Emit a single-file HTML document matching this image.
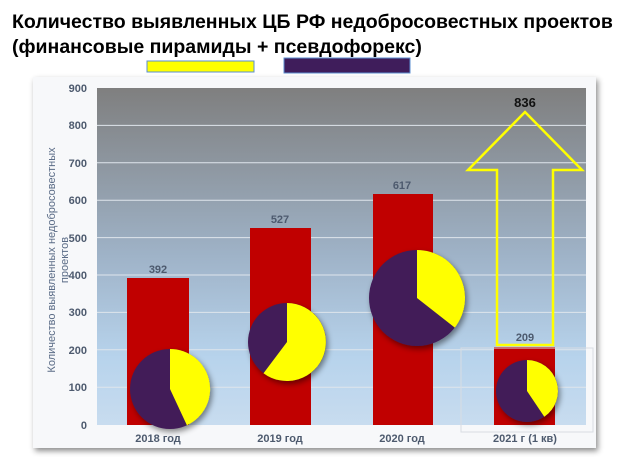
<!DOCTYPE html>
<html><head><meta charset="utf-8"><style>
html,body{margin:0;padding:0;background:#fff;width:626px;height:457px;overflow:hidden}
svg{display:block;font-family:"Liberation Sans",sans-serif}
</style></head><body>
<svg width="626" height="457" viewBox="0 0 626 457">
<defs>
<linearGradient id="bg" x1="0" y1="0" x2="0" y2="1">
<stop offset="0" stop-color="#7f7f7f"/><stop offset="0.5" stop-color="#9fb3c8"/><stop offset="0.8" stop-color="#b7d3ec"/><stop offset="1" stop-color="#c8dcef"/>
</linearGradient>
<filter id="sh" x="-20%" y="-20%" width="140%" height="140%"><feDropShadow dx="2" dy="3" stdDeviation="3" flood-color="#000" flood-opacity="0.45"/></filter>
</defs>
<text x="12" y="28" font-size="19.5" font-weight="bold" fill="#000">Количество выявленных ЦБ РФ недобросовестных проектов</text>
<text x="12" y="53" font-size="19.5" font-weight="bold" fill="#000">(финансовые пирамиды + псевдофорекс)</text>
<rect x="147" y="61" width="107" height="11" fill="#ffff00" stroke="#5b8fd0" stroke-width="1"/>
<rect x="284" y="58" width="126" height="15" fill="#3f1d5b" stroke="#5b8fd0" stroke-width="1"/>
<rect x="33" y="77" width="563" height="371" fill="#f7f8fa" filter="url(#sh)"/>
<rect x="97" y="88" width="489" height="337" fill="url(#bg)"/>
<g stroke="#dfe5ec" stroke-width="1">
<line x1="97" x2="586" y1="125.4" y2="125.4"/><line x1="97" x2="586" y1="162.8" y2="162.8"/>
<line x1="97" x2="586" y1="200.2" y2="200.2"/><line x1="97" x2="586" y1="237.6" y2="237.6"/>
<line x1="97" x2="586" y1="275" y2="275"/><line x1="97" x2="586" y1="312.4" y2="312.4"/>
<line x1="97" x2="586" y1="349.8" y2="349.8"/><line x1="97" x2="586" y1="387.2" y2="387.2"/>
</g>
<g font-size="11" font-weight="bold" fill="#4d5a6e" text-anchor="end">
<text x="87" y="92">900</text><text x="87" y="129">800</text><text x="87" y="167">700</text>
<text x="87" y="204">600</text><text x="87" y="242">500</text><text x="87" y="279">400</text>
<text x="87" y="316">300</text><text x="87" y="354">200</text><text x="87" y="391">100</text><text x="87" y="429">0</text>
</g>
<g font-size="11" fill="#5a6b86" text-anchor="middle" transform="translate(55,260) rotate(-90)">
<text x="0" y="0">Количество выявленных недобросовестных</text><text x="0" y="13">проектов</text>
</g>
<rect x="127" y="278" width="62" height="147" fill="#c00000"/>
<rect x="250" y="228" width="61" height="197" fill="#c00000"/>
<rect x="373" y="194" width="60" height="231" fill="#c00000"/>
<rect x="494" y="347" width="61" height="78" fill="#c00000"/>
<g font-size="11" font-weight="bold" fill="#4d5a6e" text-anchor="middle">
<text x="158" y="273">392</text><text x="280" y="223">527</text><text x="402" y="189">617</text><text x="525" y="341">209</text>
<text x="158" y="442">2018 год</text><text x="280" y="442">2019 год</text><text x="402" y="442">2020 год</text><text x="525" y="442">2021 г (1 кв)</text>
</g>
<rect x="461" y="348" width="132" height="84" fill="none" stroke="#d8dde3" stroke-width="1"/>
<polygon points="525,112 582,170 553,170 553,345 497,345 497,170 468,170" fill="none" stroke="#ffff00" stroke-width="2.5"/>
<text x="525" y="107" font-size="13" font-weight="bold" fill="#111" text-anchor="middle">836</text>
<g filter="url(#sh)">
<circle cx="170" cy="389" r="40" fill="#421c58"/>
<path d="M170,389 L170,349 A40,40 0 0 1 186.9,425.3 Z" fill="#ffff00"/>
</g>
<g filter="url(#sh)">
<circle cx="287" cy="342" r="39" fill="#421c58"/>
<path d="M287,342 L287,303 A39,39 0 1 1 263.5,373.2 Z" fill="#ffff00"/>
</g>
<g filter="url(#sh)">
<circle cx="417" cy="298" r="48" fill="#421c58"/>
<path d="M417,298 L417,250 A48,48 0 0 1 454.8,327.6 Z" fill="#ffff00"/>
</g>
<g filter="url(#sh)">
<circle cx="527" cy="391" r="31" fill="#421c58"/>
<path d="M527,391 L527,360 A31,31 0 0 1 544.3,416.7 Z" fill="#ffff00"/>
</g>
</svg>
</body></html>
